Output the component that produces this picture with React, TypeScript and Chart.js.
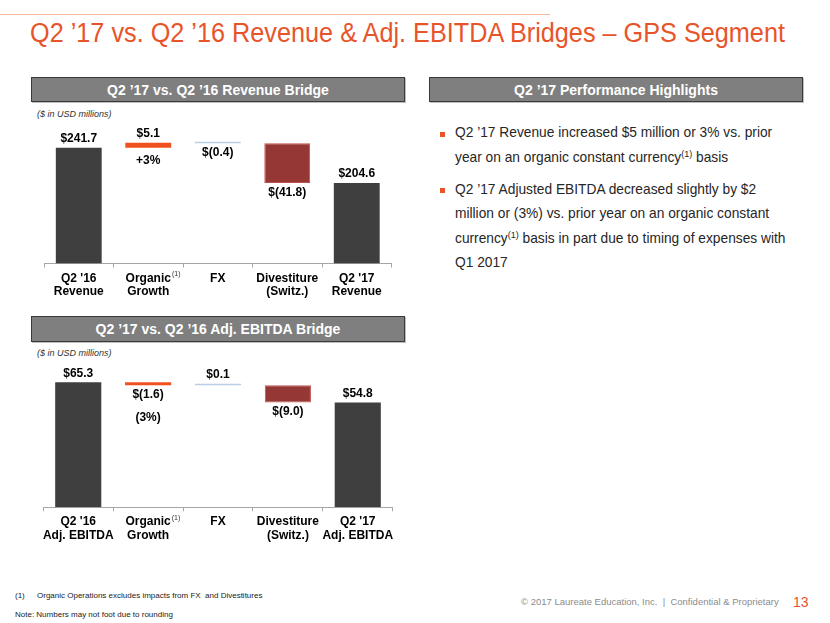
import React, { useEffect, useRef } from "react";
import { Chart, registerables } from "chart.js";

Chart.register(...registerables);

// ---------- data ----------
const revenueCategories: string[][] = [["Q2 '16", "Revenue"], ["Organic", "Growth"], ["FX"], ["Divestiture", "(Switz.)"], ["Q2 '17", "Revenue"]];
const revenueValues: number[] = [241.7, 5.1, -0.4, -41.8, 204.6];
const revenuePercents: string[] = ["", "+3%", "", "", ""];
const revenueAxis: number[] = [120, 250];

const ebitdaCategories: string[][] = [["Q2 '16", "Adj. EBITDA"], ["Organic", "Growth"], ["FX"], ["Divestiture", "(Switz.)"], ["Q2 '17", "Adj. EBITDA"]];
const ebitdaValues: number[] = [65.3, -1.6, 0.1, -9.0, 54.8];
const ebitdaPercents: string[] = ["", "(3%)", "", "", ""];
const ebitdaAxis: number[] = [0, 70];

const barColors: string[] = ["#3F3F3F", "#F0501E", "#B9CDE5", "#953735", "#3F3F3F"];

const FONT = 'Arial, "Liberation Sans", sans-serif';

function bridgeData(values: number[], min: number): [number, number][] {
  const out: [number, number][] = [];
  let run = values[0];
  out.push([min, values[0]]);
  for (let i = 1; i < values.length - 1; i++) {
    const next = run + values[i];
    out.push([run, next]);
    run = next;
  }
  out.push([min, values[values.length - 1]]);
  return out;
}

function fmt(v: number): string {
  return v < 0 ? `$(${Math.abs(v).toFixed(1)})` : `$${v.toFixed(1)}`;
}

const labelPlugin = {
  id: "bridgeLabels",
  afterDatasetsDraw(chart: any, _args: any, opts: any) {
    const { ctx } = chart;
    const meta = chart.getDatasetMeta(0);
    const n = meta.data.length;
    ctx.save();
    ctx.font = `bold 12px ${FONT}`;
    ctx.fillStyle = "#000";
    ctx.textAlign = "center";
    ctx.textBaseline = "middle";
    meta.data.forEach((bar: any, i: number) => {
      const { x, y, base } = bar.getProps(["x", "y", "base"], true);
      const top = Math.min(y, base);
      const bottom = Math.max(y, base);
      const v = opts.values[i];
      const isTotal = i === 0 || i === n - 1;
      const below = !isTotal && v < 0;
      const ly = below ? bottom + 9.5 : top - 9;
      ctx.fillText(fmt(v), x, ly);
      const p = opts.percents[i];
      if (p) {
        const py = below ? ly + 23 : bottom + 13;
        ctx.fillText(p, x, py);
      }
    });
    // footnote marker on "Organic"
    const xs = chart.scales.x;
    const px = xs.getPixelForTick(1);
    ctx.font = `bold 12px ${FONT}`;
    const w = ctx.measureText("Organic").width;
    ctx.font = `7px ${FONT}`;
    ctx.textAlign = "left";
    ctx.textBaseline = "top";
    ctx.fillStyle = "#333";
    ctx.fillText("(1)", px + w / 2 + 1, xs.top + 7);
    ctx.restore();
  },
};

function Bridge(props: {
  categories: string[][];
  values: number[];
  percents: string[];
  axis: number[];
  width: number;
  height: number;
  padding: { left: number; right: number; top: number };
  axisHeight: number;
}) {
  const ref = useRef<HTMLCanvasElement | null>(null);
  useEffect(() => {
    if (!ref.current) return;
    const chart = new Chart(ref.current, {
      type: "bar",
      data: {
        labels: props.categories,
        datasets: [
          {
            data: bridgeData(props.values, props.axis[0]) as any,
            backgroundColor: barColors,
            borderColor: ["#3F3F3F", "#F0501E", "#B9CDE5", "#C0504D", "#3F3F3F"],
            borderWidth: [0, 0, 0, 1, 0],
            borderSkipped: false,
            minBarLength: 1.5,
            barPercentage: 0.66,
            categoryPercentage: 1,
          },
        ],
      },
      options: {
        animation: false,
        responsive: false,
        devicePixelRatio: 1,
        layout: { padding: { left: props.padding.left, right: props.padding.right, top: props.padding.top, bottom: 0 } },
        plugins: {
          legend: { display: false },
          tooltip: { enabled: false },
          bridgeLabels: { values: props.values, percents: props.percents },
        } as any,
        scales: {
          y: { display: false, min: props.axis[0], max: props.axis[1] },
          x: {
            afterFit: (scale: any) => {
              scale.height = props.axisHeight;
            },
            grid: { drawOnChartArea: false, drawTicks: true, tickLength: 4, color: "#A6A6A6", offset: true },
            border: { display: true, color: "#A6A6A6", width: 1 },
            ticks: {
              color: "#000",
              padding: 4,
              maxRotation: 0,
              autoSkip: false,
              font: { family: FONT, size: 12, weight: "bold", lineHeight: 1.12 },
            },
          },
        },
      },
      plugins: [labelPlugin as any],
    });
    return () => chart.destroy();
  }, []);
  return <canvas ref={ref} width={props.width} height={props.height} />;
}

const headerStyle: React.CSSProperties = {
  position: "absolute",
  boxSizing: "border-box",
  background: "#7F7F7F",
  border: "1px solid #3A3A3A",
  boxShadow: "1px 1px 0 #BFBFBF",
  color: "#fff",
  fontWeight: "bold",
  fontSize: 14,
  display: "flex",
  alignItems: "center",
  justifyContent: "center",
  fontFamily: FONT,
};

const sup: React.CSSProperties = { fontSize: 9, position: "relative", top: -5, lineHeight: 0 };

export default function App() {
  return (
    <div
      style={{
        position: "absolute",
        left: 0,
        top: 0,
        width: 830,
        height: 623,
        background: "#fff",
        fontFamily: FONT,
        overflow: "hidden",
      }}
    >
      <div style={{ position: "absolute", left: 0, top: 14, width: 550, height: 1, background: "#F6B89F" }} />
      <div
        style={{
          position: "absolute",
          left: 30,
          top: 20,
          fontSize: 27,
          lineHeight: "27px",
          color: "#E8542A",
          whiteSpace: "nowrap",
          transform: "scaleX(0.935)",
          transformOrigin: "left top",
        }}
      >
        Q2 ’17 vs. Q2 ’16 Revenue &amp; Adj. EBITDA Bridges – GPS Segment
      </div>

      <div style={{ ...headerStyle, left: 31, top: 77, width: 374, height: 25 }}>Q2 ’17 vs. Q2 ’16 Revenue Bridge</div>
      <div style={{ ...headerStyle, left: 429, top: 77, width: 374, height: 25 }}>Q2 ’17 Performance Highlights</div>
      <div style={{ ...headerStyle, left: 31, top: 316, width: 374, height: 26 }}>Q2 ’17 vs. Q2 ’16 Adj. EBITDA Bridge</div>

      <div style={{ position: "absolute", left: 37, top: 109, fontSize: 9, lineHeight: "10px", fontStyle: "italic", color: "#333" }}>
        ($ in USD millions)
      </div>
      <div style={{ position: "absolute", left: 37, top: 347.5, fontSize: 9, lineHeight: "10px", fontStyle: "italic", color: "#333" }}>
        ($ in USD millions)
      </div>

      <div style={{ position: "absolute", left: 30, top: 105 }}>
        <Bridge
          categories={revenueCategories}
          values={revenueValues}
          percents={revenuePercents}
          axis={revenueAxis}
          width={380}
          height={200}
          padding={{ left: 14, right: 18.5, top: 34.8 }}
          axisHeight={41.5}
        />
      </div>
      <div style={{ position: "absolute", left: 30, top: 345 }}>
        <Bridge
          categories={ebitdaCategories}
          values={ebitdaValues}
          percents={ebitdaPercents}
          axis={ebitdaAxis}
          width={380}
          height={205}
          padding={{ left: 13.3, right: 17.3, top: 28.3 }}
          axisHeight={42.7}
        />
      </div>

      {/* highlights */}
      <div style={{ position: "absolute", left: 440, top: 131.7, width: 5, height: 5, background: "#E8542A" }} />
      <div style={{ position: "absolute", left: 440, top: 188.3, width: 5, height: 5, background: "#E8542A" }} />
      <div style={{ position: "absolute", left: 455, top: 121, fontSize: 13.75, lineHeight: "24.5px", color: "#262626", whiteSpace: "nowrap" }}>
        Q2 ’17 Revenue increased $5 million or 3% vs. prior
        <br />
        year on an organic constant currency<span style={sup}>(1)</span> basis
      </div>
      <div style={{ position: "absolute", left: 455, top: 177.8, fontSize: 13.75, lineHeight: "24.5px", color: "#262626", whiteSpace: "nowrap" }}>
        Q2 ’17 Adjusted EBITDA decreased slightly by $2
        <br />
        million or (3%) vs. prior year on an organic constant
        <br />
        currency<span style={sup}>(1)</span> basis in part due to timing of expenses with
        <br />
        Q1 2017
      </div>

      {/* footer */}
      <div style={{ position: "absolute", left: 15, top: 591, fontSize: 8, lineHeight: "9px", color: "#222", whiteSpace: "nowrap" }}>(1)</div>
      <div style={{ position: "absolute", left: 37, top: 591, fontSize: 8, lineHeight: "9px", color: "#222", whiteSpace: "nowrap" }}>
        Organic Operations excludes impacts from FX&nbsp; and Divestitures
      </div>
      <div style={{ position: "absolute", left: 15, top: 610, fontSize: 8, lineHeight: "9px", color: "#222", whiteSpace: "nowrap" }}>
        Note: Numbers may not foot due to rounding
      </div>
      <div style={{ position: "absolute", left: 521, top: 597, fontSize: 9.5, lineHeight: "10px", color: "#8C8C8C", whiteSpace: "nowrap" }}>
        © 2017 Laureate Education, Inc.&nbsp; |&nbsp; Confidential &amp; Proprietary
      </div>
      <div style={{ position: "absolute", left: 793, top: 595, fontSize: 14, lineHeight: "14px", color: "#E8542A" }}>13</div>
    </div>
  );
}
